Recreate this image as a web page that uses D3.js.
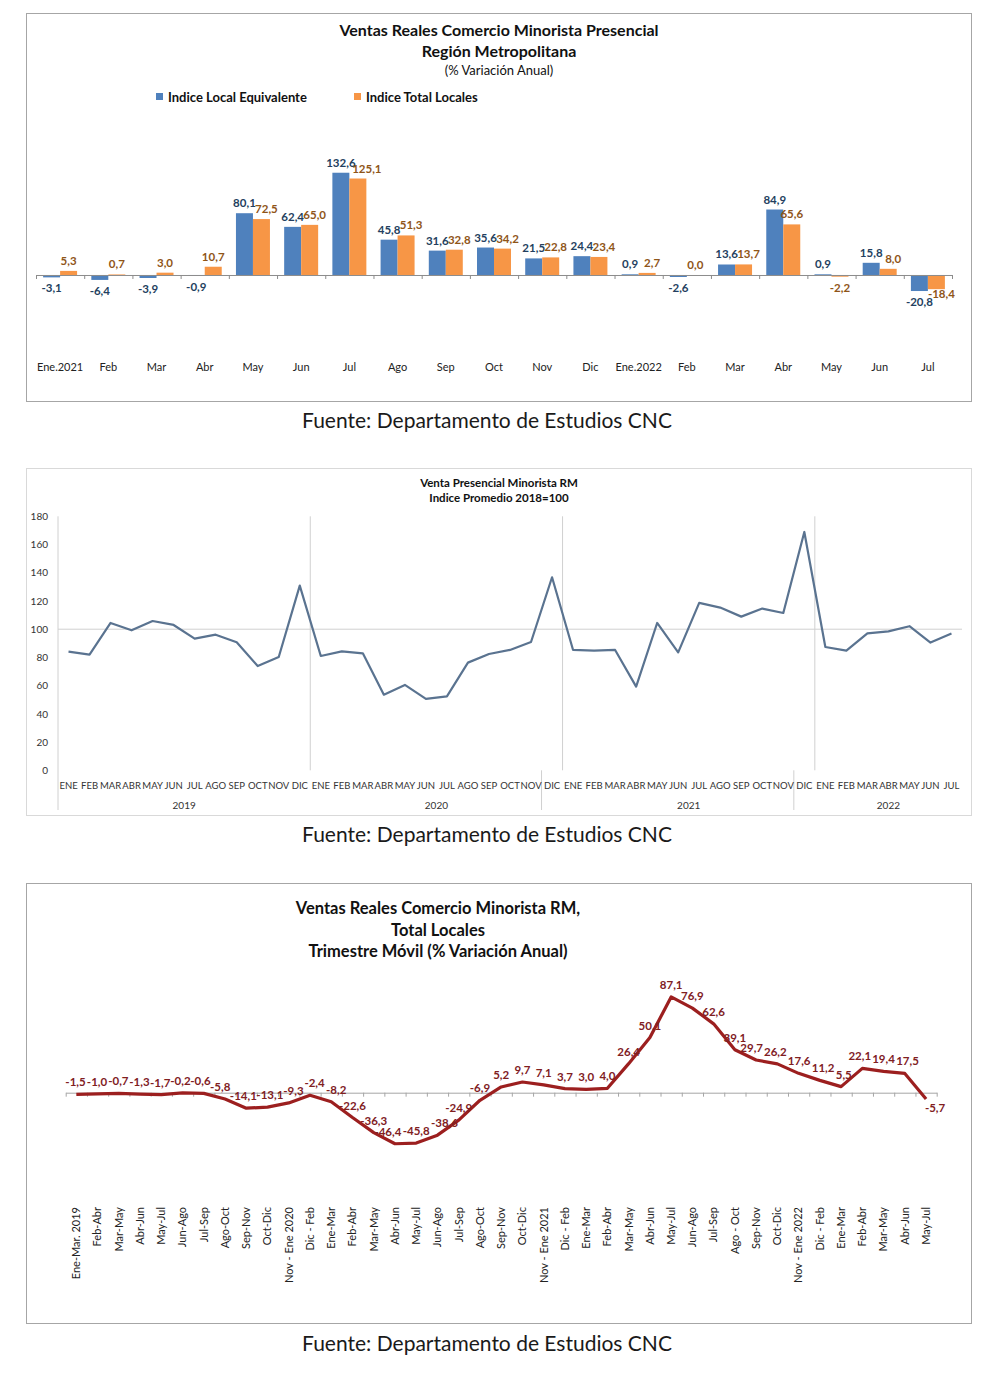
<!DOCTYPE html>
<html>
<head>
<meta charset="utf-8">
<script src="https://cdn.jsdelivr.net/npm/d3@7"></script>
<style>
  body { margin: 0; background: #fff; }
  svg { display: block; font-family: Lato, 'Open Sans', sans-serif; }
</style>
</head>
<body>
<div id="viz"></div>
<script>
// Chart 1: annual % change, bars
const barMonths = ['Ene.2021', 'Feb', 'Mar', 'Abr', 'May', 'Jun', 'Jul', 'Ago', 'Sep', 'Oct', 'Nov', 'Dic',
  'Ene.2022', 'Feb', 'Mar', 'Abr', 'May', 'Jun', 'Jul'];
const localEquiv = [-3.1, -6.4, -3.9, -0.9, 80.1, 62.4, 132.6, 45.8, 31.6, 35.6, 21.5, 24.4,
  0.9, -2.6, 13.6, 84.9, 0.9, 15.8, -20.8];
const totalLocales = [5.3, 0.7, 3.0, 10.7, 72.5, 65.0, 125.1, 51.3, 32.8, 34.2, 22.8, 23.4,
  2.7, 0.0, 13.7, 65.6, -2.2, 8.0, -18.4];
const barSeries = ['Indice Local Equivalente', 'Indice Total Locales'];

// Chart 2: index 2018=100
const monthNames = ['ENE', 'FEB', 'MAR', 'ABR', 'MAY', 'JUN', 'JUL', 'AGO', 'SEP', 'OCT', 'NOV', 'DIC'];
const indexYears = ['2019', '2020', '2021', '2022'];
const indexValues = [
  84.1, 82.0, 104.4, 99.2, 105.8, 103.0, 93.3, 96.1, 90.7, 73.9, 80.3, 130.9,
  81.0, 84.3, 82.9, 53.6, 60.5, 50.6, 52.4, 76.3, 82.4, 85.3, 90.9, 136.8,
  85.3, 84.8, 85.3, 59.3, 104.4, 83.6, 118.6, 115.3, 108.9, 114.6, 111.5, 168.9,
  87.4, 84.8, 97.1, 98.5, 102.1, 90.5, 96.9
];
const indexTicks = [0, 20, 40, 60, 80, 100, 120, 140, 160, 180];

// Chart 3: rolling quarter % change
const quarterLabels = ['Ene-Mar. 2019', 'Feb-Abr', 'Mar-May', 'Abr-Jun', 'May-Jul', 'Jun-Ago', 'Jul-Sep', 'Ago-Oct',
  'Sep-Nov', 'Oct-Dic', 'Nov - Ene 2020', 'Dic - Feb', 'Ene-Mar', 'Feb-Abr', 'Mar-May', 'Abr-Jun', 'May-Jul',
  'Jun-Ago', 'Jul-Sep', 'Ago-Oct', 'Sep-Nov', 'Oct-Dic', 'Nov - Ene 2021', 'Dic - Feb', 'Ene-Mar', 'Feb-Abr',
  'Mar-May', 'Abr-Jun', 'May-Jul', 'Jun-Ago', 'Jul-Sep', 'Ago - Oct', 'Sep-Nov', 'Oct-Dic', 'Nov - Ene 2022',
  'Dic - Feb', 'Ene-Mar', 'Feb-Abr', 'Mar-May', 'Abr-Jun', 'May-Jul'];
const quarterValues = [-1.5, -1.0, -0.7, -1.3, -1.7, -0.2, -0.6, -5.8, -14.1, -13.1, -9.3, -2.4, -8.2,
  -22.6, -36.3, -46.4, -45.8, -38.6, -24.9, -6.9, 5.2, 9.7, 7.1, 3.7, 3.0, 4.0, 26.4, 50.1, 87.1, 76.9,
  62.6, 39.1, 29.7, 26.2, 17.6, 11.2, 5.5, 22.1, 19.4, 17.5, -5.7];

const sourceText = 'Fuente: Departamento de Estudios CNC';

const blue = '#4f81bd';
const orange = '#f79646';
const red = '#9c1f1f';
const narrow = "'Liberation Sans Narrow', 'Arial Narrow', Lato, sans-serif";

const fmt = d3.formatLocale({
  decimal: ',', thousands: '.', grouping: [3], currency: ['$', ''], minus: '-'
}).format('.1f');

const svg = d3.select('#viz').append('svg').attr('width', 1000).attr('height', 1376);
svg.append('rect').attr('width', 1000).attr('height', 1376).attr('fill', '#fff');

const frame = (y, h, stroke) =>
  svg.append('rect').attr('x', 26.5).attr('y', y + 0.5).attr('width', 945).attr('height', h)
    .attr('fill', 'none').attr('stroke', stroke);

const source = (y) =>
  svg.append('text').attr('x', 487).attr('y', y).attr('text-anchor', 'middle')
    .attr('font-size', 21).attr('fill', '#1a1a1a').text(sourceText);

/* ---------- chart 1 ---------- */
frame(13, 388, '#a6a6a6');
const g1 = svg.append('g');

const titles1 = [['Ventas Reales Comercio Minorista Presencial', 36, 'bold', 16],
  ['Región Metropolitana', 56.5, 'bold', 16], ['(% Variación Anual)', 74.5, 'normal', 13]];
g1.selectAll('.t1').data(titles1).enter().append('text')
  .attr('x', 499).attr('y', d => d[1]).attr('text-anchor', 'middle')
  .attr('font-weight', d => d[2]).attr('font-size', d => d[3]).attr('fill', '#111')
  .text(d => d[0]);

const x1 = d3.scaleBand().domain(d3.range(barMonths.length)).range([36, 952])
  .paddingInner(0.295).paddingOuter(0.1475);
const xs1 = d3.scaleBand().domain(barSeries).range([0, x1.bandwidth()]);
const y1 = d3.scaleLinear().domain([-100, 160]).range([352.1, 151.6]);
const color1 = d3.scaleOrdinal().domain(barSeries).range([blue, orange]);
const labelColor1 = d3.scaleOrdinal().domain(barSeries).range(['#243f60', '#8f5518']);

// legend
const legend = g1.selectAll('.legend').data(barSeries).enter().append('g')
  .attr('transform', (d, i) => `translate(${i === 0 ? 156 : 354},93)`);
legend.append('rect').attr('width', 7).attr('height', 7).attr('fill', d => color1(d));
legend.append('text').attr('x', 12).attr('y', 8.5).attr('font-size', 13).attr('font-weight', 'bold')
  .attr('fill', '#111').text(d => d);

// bars
const barData = barMonths.map((m, i) => ({
  i, values: [{ key: barSeries[0], v: localEquiv[i] }, { key: barSeries[1], v: totalLocales[i] }]
}));
const groups = g1.selectAll('.grp').data(barData).enter().append('g')
  .attr('transform', d => `translate(${x1(d.i)},0)`);
groups.selectAll('rect').data(d => d.values).enter().append('rect')
  .attr('x', d => xs1(d.key)).attr('width', xs1.bandwidth())
  .attr('y', d => y1(Math.max(0, d.v)))
  .attr('height', d => Math.abs(y1(d.v) - y1(0)))
  .attr('fill', d => color1(d.key));

// value labels; the second label is nudged aside when both sit at the same height
groups.each(function (d) {
  const [a, b] = d.values;
  const close = Math.sign(a.v) === Math.sign(b.v) && Math.abs(y1(a.v) - y1(b.v)) < 9;
  const wide = close && Math.abs(a.v) >= 100;
  d3.select(this).selectAll('text').data(d.values).enter().append('text')
    .attr('x', (e, k) => xs1(e.key) + xs1.bandwidth() / 2 + (close && k === 1 ? (wide ? 9 : 5) : 0))
    .attr('y', (e, k) => (e.v >= 0 ? y1(e.v) - 6 : y1(e.v) + 15) + (close && k === 1 && e.v < 0 ? -6 : 0))
    .attr('text-anchor', 'middle').attr('font-size', 11.5).attr('font-weight', 'bold')
    .attr('font-family', narrow)
    .attr('fill', e => labelColor1(e.key)).text(e => fmt(e.v));
});

// zero axis with ticks on category boundaries
const xb1 = d3.scaleLinear().domain([0, barMonths.length]).range([36, 952]);
g1.append('g').attr('transform', `translate(0,${y1(0)})`)
  .call(d3.axisBottom(xb1).tickValues(d3.range(barMonths.length + 1)).tickFormat('').tickSize(4).tickSizeOuter(0))
  .call(g => g.selectAll('line, path').attr('stroke', '#8c8c8c'));

// month labels
g1.append('g').attr('transform', 'translate(0,360)')
  .call(d3.axisBottom(x1).tickFormat(i => barMonths[i]).tickSize(0))
  .call(g => g.select('.domain').remove())
  .call(g => g.selectAll('text').attr('font-size', 11).attr('font-family', 'Lato').attr('fill', '#222'));

source(428);

/* ---------- chart 2 ---------- */
frame(468, 347, '#d9d9d9');
const g2 = svg.append('g');

g2.selectAll('.t2').data(['Venta Presencial Minorista RM', 'Indice Promedio 2018=100']).enter().append('text')
  .attr('x', 499).attr('y', (d, i) => 487 + i * 15).attr('text-anchor', 'middle')
  .attr('font-weight', 'bold').attr('font-size', 11.5).attr('fill', '#111').text(d => d);

const x2 = d3.scaleBand().domain(d3.range(indexValues.length)).range([58, 962]);
const y2 = d3.scaleLinear().domain([0, 180]).range([770.3, 516.3]);
const cx2 = i => x2(i) + x2.bandwidth() / 2;

g2.append('g').attr('transform', 'translate(52,0)')
  .call(d3.axisLeft(y2).tickValues(indexTicks).tickSize(0).tickPadding(4))
  .call(g => g.select('.domain').remove())
  .call(g => g.selectAll('text').attr('font-size', 10).attr('font-family', 'Lato').attr('fill', '#333'));

// reference line at 100
g2.append('line').attr('x1', 58).attr('x2', 962).attr('y1', y2(100)).attr('y2', y2(100))
  .attr('stroke', '#d0d0d0');

// y axis line and year dividers
g2.append('line').attr('x1', 58).attr('x2', 58).attr('y1', y2(180)).attr('y2', 810).attr('stroke', '#d0d0d0');
const yearStarts = indexYears.map((y, i) => i * 12);
g2.selectAll('.yd').data(yearStarts.slice(1)).enter().append('line')
  .attr('x1', d => x2(d)).attr('x2', d => x2(d)).attr('y1', y2(180)).attr('y2', y2(0))
  .attr('stroke', '#d0d0d0');
g2.selectAll('.sep').data(yearStarts.slice(2).map(d => d - 1)).enter().append('line')
  .attr('x1', d => x2(d)).attr('x2', d => x2(d)).attr('y1', y2(0)).attr('y2', 810)
  .attr('stroke', '#d0d0d0');

g2.append('path').datum(indexValues)
  .attr('d', d3.line().x((d, i) => cx2(i)).y(d => y2(d)))
  .attr('fill', 'none').attr('stroke', '#5a7390').attr('stroke-width', 2.2).attr('stroke-linejoin', 'round');

g2.append('g').attr('transform', 'translate(0,779)')
  .call(d3.axisBottom(x2).tickFormat(i => monthNames[i % 12]).tickSize(0))
  .call(g => g.select('.domain').remove())
  .call(g => g.selectAll('text').attr('font-size', 9.5).attr('font-family', 'Lato').attr('fill', '#333'));

g2.selectAll('.yr').data(indexYears).enter().append('text')
  .attr('x', (d, i) => {
    const first = i * 12;
    const last = Math.min(first + 11, indexValues.length - 1);
    return (x2(first) + x2(last) + x2.bandwidth()) / 2;
  })
  .attr('y', 809).attr('text-anchor', 'middle').attr('font-size', 10).attr('fill', '#333').text(d => d);

source(842);

/* ---------- chart 3 ---------- */
frame(883, 440, '#a6a6a6');
const g3 = svg.append('g');

g3.selectAll('.t3').data(['Ventas Reales Comercio Minorista RM,', 'Total Locales', 'Trimestre Móvil (% Variación Anual)'])
  .enter().append('text')
  .attr('x', 438).attr('y', (d, i) => 914 + i * 21.5).attr('text-anchor', 'middle')
  .attr('font-weight', 'bold').attr('font-size', 16.5).attr('fill', '#111').text(d => d);

const x3 = d3.scaleBand().domain(d3.range(quarterValues.length)).range([65.7, 936.7]);
const y3 = d3.scaleLinear().domain([-60, 100]).range([1158.7, 982.7]);
const cx3 = i => x3(i) + x3.bandwidth() / 2;

const xb3 = d3.scaleLinear().domain([0, quarterValues.length]).range([65.7, 936.7]);
g3.append('g').attr('transform', `translate(0,${y3(0)})`)
  .call(d3.axisBottom(xb3).tickValues(d3.range(quarterValues.length + 1)).tickFormat('').tickSize(4).tickSizeOuter(0))
  .call(g => g.selectAll('line, path').attr('stroke', '#a6a6a6'));

g3.append('path').datum(quarterValues)
  .attr('d', d3.line().x((d, i) => cx3(i)).y(d => y3(d)))
  .attr('fill', 'none').attr('stroke', red).attr('stroke-width', 3.2).attr('stroke-linejoin', 'round');

const lastIdx = quarterValues.length - 1;
const qLabels = g3.selectAll('.lbl').data(quarterValues).enter().append('text')
  .attr('x', (d, i) => i === lastIdx ? cx3(i) + 9 : cx3(i))
  .attr('y', (d, i) => i === lastIdx ? y3(d) + 13 : y3(d) - 8)
  .attr('text-anchor', 'middle').attr('font-size', 11.5).attr('font-weight', 'bold')
  .attr('font-family', narrow).attr('fill', '#80201f')
  .text(d => fmt(d));

// push apart neighbouring labels that sit at the same height and collide (a few passes)
const qNodes = qLabels.nodes();
for (let pass = 0; pass < 6; pass++) {
  for (let i = 1; i < qNodes.length; i++) {
    const a = qNodes[i - 1].getBBox();
    const b = qNodes[i].getBBox();
    const overlapX = a.x + a.width - b.x + 1;
    const overlapY = Math.min(a.y + a.height, b.y + b.height) - Math.max(a.y, b.y);
    if (overlapX > 0 && overlapY > 3) {
      const half = overlapX / 2;
      qNodes[i - 1].setAttribute('x', +qNodes[i - 1].getAttribute('x') - half);
      qNodes[i].setAttribute('x', +qNodes[i].getAttribute('x') + half);
    }
  }
}

g3.selectAll('.xl').data(quarterLabels).enter().append('text')
  .attr('transform', (d, i) => `translate(${cx3(i)},1207) rotate(-90)`)
  .attr('dy', '0.35em').attr('text-anchor', 'end').attr('font-size', 11).attr('fill', '#222')
  .text(d => d);

source(1351);
</script>
</body>
</html>
